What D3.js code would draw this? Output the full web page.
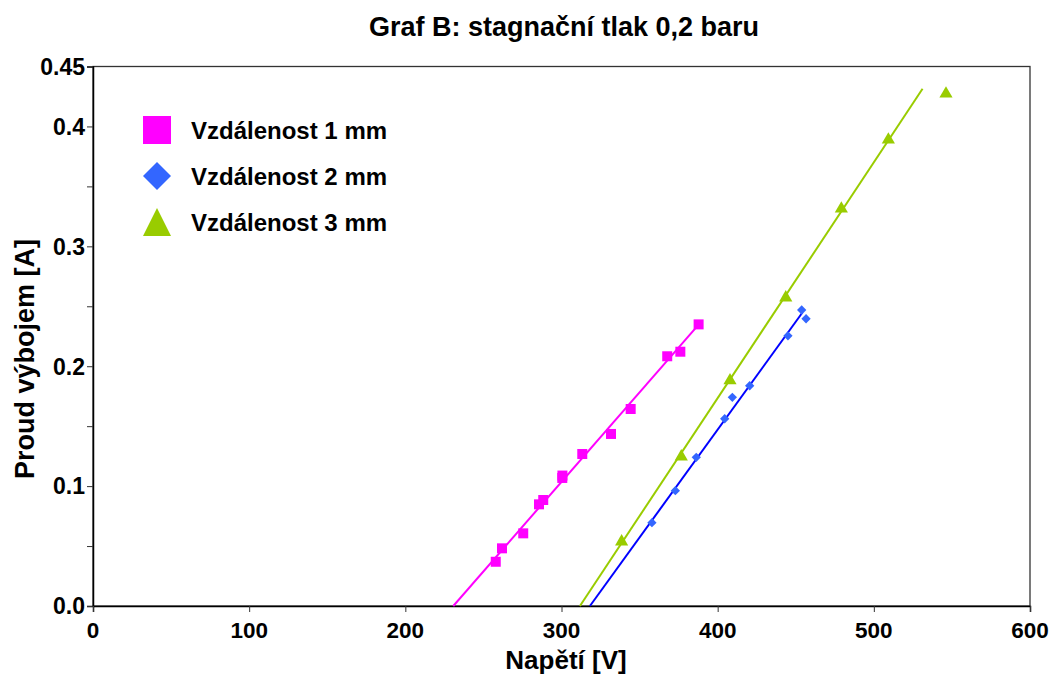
<!DOCTYPE html>
<html><head><meta charset="utf-8">
<script src="https://cdn.jsdelivr.net/npm/d3@7"></script>
<style>body{margin:0;background:#fff}svg{display:block}text{font-family:"Liberation Sans",Arial,sans-serif;font-weight:bold}</style>
</head><body>
<script>
const title = "Graf B: stagnační tlak 0,2 baru";
const xTitle = "Napětí [V]";
const yTitle = "Proud výbojem [A]";
const seriesNames = ["Vzdálenost 1 mm","Vzdálenost 2 mm","Vzdálenost 3 mm"];
const xTickValues = [0,100,200,300,400,500,600];
const yTickValues = [0,0.1,0.2,0.3,0.4,0.45];
const yMinorTicks = [0,0.05,0.1,0.15,0.2,0.25,0.3,0.35,0.4,0.45];

const s1x = [257.9,261.9,275.5,285.6,288.3,300.5,300.6,313.3,331.7,344.3,367.7,376.1,387.8];
const s1y = [0.0369,0.0481,0.0606,0.0848,0.0884,0.1068,0.1088,0.1268,0.1435,0.1643,0.2083,0.2121,0.2349];
const s2x = [357.9,372.9,386.3,404.5,409.4,420.5,445.0,453.8,456.6];
const s2y = [0.0695,0.0962,0.1240,0.1562,0.1741,0.1837,0.2254,0.2469,0.2396];
const s3x = [338.5,376.7,407.9,443.6,479.2,509.3,546.2];
const s3y = [0.0545,0.1254,0.1889,0.2580,0.3322,0.3897,0.4281];

// trend line end points [x0,x1] and [y0,y1]
const fit1x = [230.7,387.8], fit1y = [0,0.2347];
const fit2x = [318.2,454.4], fit2y = [0,0.245];
const fit3x = [311.8,531.2], fit3y = [0,0.4314];

const W=1062,H=686;
const m={l:93,r:1030,t:66.5,b:606};
const svg=d3.select("body").append("svg").attr("width",W).attr("height",H);
const x=d3.scaleLinear().domain([0,600]).range([m.l,m.r]);
const y=d3.scaleLinear().domain([0,0.45]).range([m.b,m.t]);

// frame
svg.append("rect").attr("x",m.l).attr("y",m.t).attr("width",m.r-m.l).attr("height",m.b-m.t)
  .attr("fill","none").attr("stroke","#333").attr("stroke-width",1.3);

// y axis
const ya=svg.append("g").attr("transform",`translate(${m.l},0)`)
  .call(d3.axisLeft(y).tickValues(yMinorTicks).tickSize(6).tickFormat(""));
ya.select(".domain").attr("stroke","#000").attr("stroke-width",1.5);
ya.selectAll(".tick line").attr("stroke","#333");
svg.append("g").selectAll("text").data(yTickValues).join("text")
  .attr("x",m.l-8).attr("y",d=>y(d)).attr("dy","0.36em").attr("text-anchor","end")
  .attr("font-size",23).text(d=>d===0.45?"0.45":d3.format(".1f")(d));

// x axis
const xa=svg.append("g").attr("transform",`translate(0,${m.b})`)
  .call(d3.axisBottom(x).tickValues(xTickValues).tickSize(6).tickFormat(""));
xa.select(".domain").attr("stroke","#000").attr("stroke-width",1.5);
xa.selectAll(".tick line").attr("stroke","#333");
svg.append("g").selectAll("text").data(xTickValues).join("text")
  .attr("x",d=>x(d)).attr("y",m.b+32).attr("text-anchor","middle")
  .attr("font-size",22.5).text(d=>d);

// titles
svg.append("text").attr("x",564).attr("y",36).attr("text-anchor","middle").attr("font-size",27).text(title);
svg.append("text").attr("x",566).attr("y",669).attr("text-anchor","middle").attr("font-size",26).text(xTitle);
svg.append("text").attr("transform","translate(34,359) rotate(-90)").attr("text-anchor","middle").attr("font-size",27).text(yTitle);

const line=d3.line().x(d=>x(d[0])).y(d=>y(d[1]));
const g=svg.append("g");
g.append("path").datum(d3.zip(fit1x,fit1y)).attr("d",line).attr("stroke","#FF00FF").attr("stroke-width",2).attr("fill","none");
g.append("path").datum(d3.zip(fit3x,fit3y)).attr("d",line).attr("stroke","#99CC00").attr("stroke-width",2).attr("fill","none");
g.append("path").datum(d3.zip(fit2x,fit2y)).attr("d",line).attr("stroke","#0000FF").attr("stroke-width",2).attr("fill","none");

const sq=d3.symbol().type(d3.symbolSquare).size(100);
const di=d3.symbol().type(d3.symbolDiamond2).size(55);
const tr=d3.symbol().type(d3.symbolTriangle).size(75);
g.selectAll(".s1").data(d3.zip(s1x,s1y)).join("path").attr("d",sq)
  .attr("transform",d=>`translate(${x(d[0])},${y(d[1])})`).attr("fill","#FF00FF");
g.selectAll(".s2").data(d3.zip(s2x,s2y)).join("path").attr("d",di)
  .attr("transform",d=>`translate(${x(d[0])},${y(d[1])})`).attr("fill","#3366FF");
g.selectAll(".s3").data(d3.zip(s3x,s3y)).join("path").attr("d",tr)
  .attr("transform",d=>`translate(${x(d[0])},${y(d[1])+1})`).attr("fill","#99CC00");

// legend
const lg=svg.append("g");
const lc=["#FF00FF","#3366FF","#99CC00"];
const ly=[130,176,222];
lg.append("rect").attr("x",143).attr("y",116).attr("width",28).attr("height",28).attr("fill",lc[0]);
lg.append("path").attr("d",`M157,${ly[1]-14}L171,${ly[1]}L157,${ly[1]+14}L143,${ly[1]}Z`).attr("fill",lc[1]);
lg.append("path").attr("d",`M157,${ly[2]-14}L171,${ly[2]+14}L143,${ly[2]+14}Z`).attr("fill",lc[2]);
lg.selectAll("text").data(seriesNames).join("text").attr("x",191).attr("y",(d,i)=>ly[i]).attr("dy","0.36em")
  .attr("font-size",24).text(d=>d);
</script>
</body></html>
